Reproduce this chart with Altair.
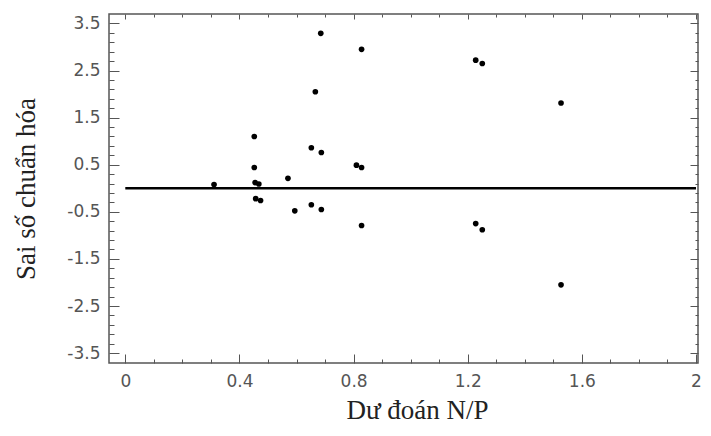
import altair as alt
import pandas as pd

# Predicted N/P (x) and standardized residuals (y)
pred_np = [0.311, 0.452, 0.452, 0.455, 0.468, 0.457, 0.474, 0.570, 0.594,
           0.652, 0.687, 0.652, 0.687, 0.666, 0.685, 0.828, 0.810, 0.828,
           0.828, 1.228, 1.251, 1.228, 1.251, 1.527, 1.527]
std_resid = [0.08, 1.10, 0.44, 0.12, 0.09, -0.22, -0.26, 0.21, -0.48,
             0.86, 0.76, -0.35, -0.45, 2.05, 3.29, 2.95, 0.49, 0.44,
             -0.79, 2.72, 2.65, -0.75, -0.88, 1.81, -2.05]

# zero reference line
ref_x = [0.0]
ref_x2 = [2.0]
ref_y = [0.0]

# tick values
x_major = [0, 0.4, 0.8, 1.2, 1.6, 2.0]
x_minor = [round(i * 0.1, 1) for i in range(21)]
y_major = [-3.5, -2.5, -1.5, -0.5, 0.5, 1.5, 2.5, 3.5]
y_minor = [round(-3.5 + 0.2 * i, 1) for i in range(36)]

x_title = "Dư đoán N/P"
y_title = "Sai số chuẩn hóa"

W, H = 589, 349
x_domain = [-0.0571, 2.007]
y_domain = [-3.71, 3.70]

pts = pd.DataFrame({"x": pred_np, "y": std_resid})
ref = pd.DataFrame({"x": ref_x, "x2": ref_x2, "y": ref_y})

xs = alt.Scale(domain=x_domain, nice=False, zero=False)
ys = alt.Scale(domain=y_domain, nice=False, zero=False)

LABEL_FONT = "DejaVu Sans"
TITLE_FONT = "Liberation Serif"
LABEL_COLOR = "#555555"
TICK_COLOR = "#555555"
TITLE_COLOR = "#222222"

x_major_test = "abs(round(datum.value * 10) % 4) == 0"
y_major_test = "abs(round(datum.value * 10 + 35) % 10) == 0"


def tick_axis(orient, offset, values, test, major, minor):
    return alt.Axis(
        orient=orient, offset=offset, values=values, labels=False,
        domain=False, grid=False, title=None, tickColor=TICK_COLOR,
        tickWidth=1,
        tickSize={"condition": {"test": test, "value": major}, "value": minor},
    )


main_x = alt.Axis(
    orient="bottom", values=x_major, ticks=False, domain=False, grid=False,
    labelExpr="format(datum.value, '.2~f')", labelFont=LABEL_FONT,
    labelFontSize=17, labelColor=LABEL_COLOR, labelPadding=10,
    title=x_title, titleFont=TITLE_FONT, titleFontSize=27,
    titleFontWeight="normal", titleColor=TITLE_COLOR, titlePadding=8,
    titleX=308,
)
main_y = alt.Axis(
    orient="left", values=y_major, ticks=False, domain=False, grid=False,
    labelExpr="(datum.value < 0 ? '-' : '') + format(abs(datum.value), '.1f')",
    labelFont=LABEL_FONT, labelFontSize=17, labelColor=LABEL_COLOR,
    labelPadding=9,
    title=y_title, titleFont=TITLE_FONT, titleFontSize=27,
    titleFontWeight="normal", titleColor=TITLE_COLOR, titlePadding=26,
)

points = alt.Chart(pts).mark_circle(size=32, color="black", opacity=1).encode(
    x=alt.X("x:Q", scale=xs, axis=main_x),
    y=alt.Y("y:Q", scale=ys, axis=main_y),
)

rule = alt.Chart(ref).mark_rule(color="black", strokeWidth=2.5).encode(
    x=alt.X("x:Q", scale=xs,
            axis=tick_axis("top", -H, x_minor, x_major_test, 9, 4)),
    x2="x2:Q",
    y=alt.Y("y:Q", scale=ys,
            axis=tick_axis("right", -W, y_minor, y_major_test, 10, 5)),
)

ghost = alt.Chart(pts).mark_point(opacity=0).encode(
    x=alt.X("x:Q", scale=xs,
            axis=tick_axis("bottom", -H, x_minor, x_major_test, 5, 3)),
    y=alt.Y("y:Q", scale=ys,
            axis=tick_axis("left", -W, y_minor, y_major_test, 8, 3)),
)

chart = (
    alt.layer(rule, points, ghost)
    .resolve_axis(x="independent", y="independent")
    .properties(
        width=W, height=H, autosize="none",
        padding={"left": 101, "top": 6, "right": 5, "bottom": 65},
        background="white",
    )
    .configure_view(stroke="#555555", strokeWidth=1.5)
)

chart.save("out.html", embed_options={"renderer": "svg", "actions": False})
